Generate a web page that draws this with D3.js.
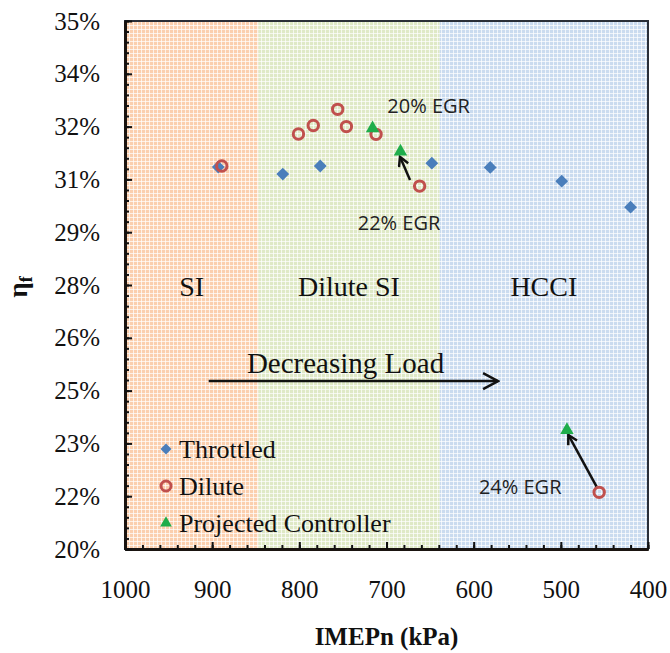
<!DOCTYPE html>
<meta charset="utf-8">
<script src="https://d3js.org/d3.v7.min.js"></script>
<style>
  body { margin: 0; background: #fff; }
  svg text { font-family: "Liberation Serif", "Times New Roman", serif !important; fill: #111; }
  svg text.egr { font-family: "Open Sans", sans-serif !important; font-size: 20px; fill: #222; }
</style>
<body></body>
<script>

// data (IMEPn in kPa, efficiency in %)
var throttledX = [893, 819, 776, 648, 581, 499, 420];
var throttledY = [30.85, 30.65, 30.88, 30.96, 30.84, 30.45, 29.71];

var diluteX = [889, 801, 784, 756, 746, 712, 662, 456];
var diluteY = [30.88, 31.79, 32.03, 32.49, 32.0, 31.78, 30.31, 21.61];

var projectedX = [716, 684, 493];
var projectedY = [31.95, 31.29, 23.38];

var regionNames = ["SI", "Dilute SI", "HCCI"];
var regionBounds = [1000, 847, 639, 400];

var yTickValues = [20, 21.5, 23, 24.5, 26, 27.5, 29, 30.5, 32, 33.5, 35];
var yTickLabels = ["20%", "22%", "23%", "25%", "26%", "28%", "29%", "31%", "32%", "34%", "35%"];
var xTickValues = [1000, 900, 800, 700, 600, 500, 400];

var egrLabels = ["20% EGR", "22% EGR", "24% EGR"];
var egrLabelX = [699, 733, 594];
var egrLabelY = [32.39, 29.06, 21.56];

// arrows from dilute point to projected point
var egrArrowFrom = [[673, 30.48], [459, 21.77]];
var egrArrowTo = [[684.5, 31.14], [491.4, 23.24]];

var loadArrow = [[904, 24.77], [572, 24.77]];

var margin = {top: 21, right: 22, bottom: 104, left: 125};
var width = 670 - margin.left - margin.right,
    height = 653 - margin.top - margin.bottom;

var serif = "'Liberation Serif', 'Times New Roman', serif";

var svg = d3.select("body").append("svg")
    .attr("width", 670)
    .attr("height", 653)
    .attr("font-family", serif);

var defs = svg.append("defs");
var fills = ["#fbcfae", "#dfe9c6", "#cadbef"];
fills.forEach(function(c, i) {
  var p = defs.append("pattern")
      .attr("id", "pat" + i)
      .attr("width", 4).attr("height", 4)
      .attr("patternUnits", "userSpaceOnUse");
  p.append("rect").attr("width", 4).attr("height", 4).attr("fill", c);
  p.append("path").attr("d", "M0 0.5H4M0.5 0V4")
      .attr("stroke", "#fff").attr("stroke-opacity", 0.7).attr("stroke-width", 1);
});

defs.append("marker")
    .attr("id", "head")
    .attr("viewBox", "-10 -6 12 12")
    .attr("markerWidth", 12).attr("markerHeight", 12)
    .attr("markerUnits", "userSpaceOnUse")
    .attr("orient", "auto")
  .append("path")
    .attr("d", "M-9,-5L0,0L-9,5")
    .attr("fill", "none").attr("stroke", "#111").attr("stroke-width", 2.5);

defs.append("marker")
    .attr("id", "bighead")
    .attr("viewBox", "-16 -10 18 20")
    .attr("markerWidth", 18).attr("markerHeight", 20)
    .attr("markerUnits", "userSpaceOnUse")
    .attr("orient", "auto")
  .append("path")
    .attr("d", "M-15,-8L0,0L-15,8")
    .attr("fill", "none").attr("stroke", "#111").attr("stroke-width", 2.5);

var g = svg.append("g")
    .attr("transform", "translate(" + margin.left + "," + margin.top + ")");

var x = d3.scaleLinear().domain([1000, 400]).range([0, width]);
var y = d3.scaleLinear().domain([20, 35]).range([height, 0]);

// shaded regions
g.selectAll(".region")
    .data(regionNames)
  .enter().append("rect")
    .attr("x", function(d, i) { return x(regionBounds[i]); })
    .attr("width", function(d, i) { return x(regionBounds[i + 1]) - x(regionBounds[i]); })
    .attr("y", 0)
    .attr("height", height)
    .attr("fill", function(d, i) { return "url(#pat" + i + ")"; });

// frame
g.append("rect")
    .attr("width", width).attr("height", height)
    .attr("fill", "none").attr("stroke", "#2a2f38").attr("stroke-width", 2);

// region labels
g.selectAll(".rlabel")
    .data(regionNames)
  .enter().append("text")
    .attr("x", function(d, i) { return x((regionBounds[i] + regionBounds[i + 1]) / 2); })
    .attr("y", y(27.2))
    .attr("text-anchor", "middle")
    .style("font-size", "28px")
    .text(function(d) { return d; });

// axes
g.append("g")
    .attr("transform", "translate(0," + height + ")")
    .call(d3.axisBottom(x).tickValues(xTickValues).tickSizeInner(-7).tickSizeOuter(0)
      .tickPadding(31).tickFormat(d3.format("d")));
g.append("g")
    .attr("transform", "translate(0," + height + ")")
    .call(d3.axisBottom(x).tickValues(d3.range(1000, 399, -20)).tickSizeInner(-4).tickSizeOuter(0)
      .tickFormat(""));

g.append("g")
    .call(d3.axisLeft(y).tickValues(yTickValues).tickSizeInner(-7).tickSizeOuter(0)
      .tickPadding(25).tickFormat(function(d, i) { return yTickLabels[i]; }));
g.append("g")
    .call(d3.axisLeft(y).tickValues(d3.range(0, 51).map(function(i) { return 20 + i * 0.3; }))
      .tickSizeInner(-4).tickSizeOuter(0).tickFormat(""));

g.selectAll("g").attr("font-family", serif);
g.selectAll(".tick line").attr("stroke", "#111").attr("stroke-width", 2);
g.selectAll(".domain").attr("stroke", "#1a1410").attr("stroke-width", 3);
g.selectAll(".tick text")
    .attr("font-family", serif)
    .attr("font-size", 25)
    .attr("fill", "#111");

// axis titles
svg.append("text")
    .attr("x", margin.left + width / 2)
    .attr("y", 645)
    .attr("text-anchor", "middle")
    .style("font-size", "25px")
    .style("font-weight", "bold")
    .text("IMEPn (kPa)");

var yl = svg.append("text")
    .attr("transform", "translate(27,287) rotate(-90)")
    .attr("text-anchor", "middle")
    .style("font-size", "27px")
    .style("font-weight", "bold");
yl.append("tspan").text("η");
yl.append("tspan").attr("dy", 5).style("font-size", "18px").text("f");

// decreasing load arrow
g.append("line")
    .attr("x1", x(loadArrow[0][0])).attr("y1", y(loadArrow[0][1]))
    .attr("x2", x(loadArrow[1][0])).attr("y2", y(loadArrow[1][1]))
    .attr("stroke", "#111").attr("stroke-width", 2.5)
    .attr("marker-end", "url(#bighead)");
g.append("text")
    .attr("x", x(747))
    .attr("y", y(25.0))
    .attr("text-anchor", "middle")
    .style("font-size", "29px")
    .text("Decreasing Load");

// EGR arrows and labels
g.selectAll(".egrArrow")
    .data(egrArrowFrom)
  .enter().append("line")
    .attr("x1", function(d) { return x(d[0]); })
    .attr("y1", function(d) { return y(d[1]); })
    .attr("x2", function(d, i) { return x(egrArrowTo[i][0]); })
    .attr("y2", function(d, i) { return y(egrArrowTo[i][1]); })
    .attr("stroke", "#111").attr("stroke-width", 2.5)
    .attr("marker-end", "url(#head)");

g.selectAll(".egrLabel")
    .data(egrLabels)
  .enter().append("text")
    .attr("class", "egr")
    .attr("x", function(d, i) { return x(egrLabelX[i]); })
    .attr("y", function(d, i) { return y(egrLabelY[i]); })
    .text(function(d) { return d; });

// points
var diamond = d3.symbol().type(d3.symbolSquare).size(82);
var tri = d3.symbol().type(d3.symbolTriangle).size(78);

g.selectAll(".thr")
    .data(throttledX)
  .enter().append("path")
    .attr("d", diamond)
    .attr("transform", function(d, i) { return "translate(" + x(d) + "," + y(throttledY[i]) + ") rotate(45)"; })
    .attr("fill", "#4a7ebb");

g.selectAll(".dil")
    .data(diluteX)
  .enter().append("circle")
    .attr("cx", function(d) { return x(d); })
    .attr("cy", function(d, i) { return y(diluteY[i]); })
    .attr("r", 5.2)
    .attr("fill", "none")
    .attr("stroke", "#c0504d")
    .attr("stroke-width", 3);

g.selectAll(".proj")
    .data(projectedX)
  .enter().append("path")
    .attr("d", tri)
    .attr("transform", function(d, i) { return "translate(" + x(d) + "," + y(projectedY[i]) + ")"; })
    .attr("fill", "#1fad4b");

// legend
var legendNames = ["Throttled", "Dilute", "Projected Controller"];
var legend = svg.append("g").attr("transform", "translate(166,449)");
var rows = legend.selectAll("g")
    .data(legendNames)
  .enter().append("g")
    .attr("transform", function(d, i) { return "translate(0," + (i * 37) + ")"; });
rows.append("text")
    .attr("x", 13)
    .attr("y", 9)
    .style("font-size", "26px")
    .text(function(d) { return d; });
rows.filter(function(d, i) { return i === 0; }).append("path")
    .attr("d", d3.symbol().type(d3.symbolSquare).size(60))
    .attr("transform", "rotate(45)")
    .attr("fill", "#4a7ebb");
rows.filter(function(d, i) { return i === 1; }).append("circle")
    .attr("r", 5).attr("fill", "none").attr("stroke", "#c0504d").attr("stroke-width", 3);
rows.filter(function(d, i) { return i === 2; }).append("path")
    .attr("d", d3.symbol().type(d3.symbolTriangle).size(60))
    .attr("fill", "#1fad4b");

</script>
